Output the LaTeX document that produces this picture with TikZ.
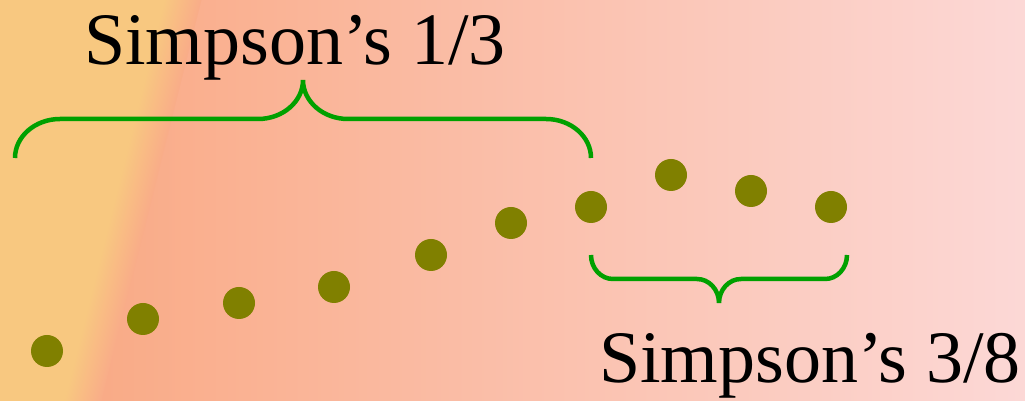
\documentclass[tikz,border=0pt]{standalone}
\usepackage{fontspec}
\setmainfont{Liberation Serif}
\definecolor{bgyellow}{RGB}{248,200,128}
\definecolor{bgsalmon}{RGB}{249,166,126}
\definecolor{bgpink}{RGB}{252,216,214}
\definecolor{dotolive}{RGB}{128,128,0}
\definecolor{bracegreen}{RGB}{0,160,0}
\begin{document}
\begin{tikzpicture}[x=1pt,y=1pt,
  pt/.style={circle,fill=dotolive,minimum size=32pt,inner sep=0pt},
  bracket/.style={bracegreen,line width=4.5pt},
  lbl/.style={font=\fontsize{74}{80}\selectfont,inner sep=0pt,anchor=base}]
  \useasboundingbox (0,0) rectangle (1025,401);
  % background
  \begin{scope}
    \clip (0,0) rectangle (1025,401);
    \shade[left color=bgsalmon,right color=bgpink] (0,0) rectangle (1025,401);
    \begin{scope}[transform canvas={shift={(133pt,201pt)},rotate=-14}]
      \fill[bgyellow] (-400,-300) rectangle (-18,300);
      \shade[left color=bgyellow,right color=bgsalmon!88!bgpink] (-18.5,-300) rectangle (18,300);
    \end{scope}
  \end{scope}

  % sample points
  \foreach \px/\py [count=\i] in {47/50,143/82,239/98,334/114,431/146,511/178,591/194,671/226,751/210,831/194}
    \node[pt] (d\i) at (\px,\py) {};

  % braces
  \coordinate (t1) at (15,243);
  \coordinate (b1) at (591,146);
  \draw[bracket] (t1) arc[start angle=180,end angle=90,x radius=45,y radius=39]
    -- ++(198,0) arc[start angle=270,end angle=360,x radius=45,y radius=39]
    arc[start angle=180,end angle=270,x radius=45,y radius=39]
    -- ++(198,0) arc[start angle=90,end angle=0,x radius=45,y radius=39];
  \draw[bracket] (b1) arc[start angle=180,end angle=270,x radius=22,y radius=24]
    -- ++(84,0) arc[start angle=90,end angle=0,x radius=22,y radius=24]
    arc[start angle=180,end angle=90,x radius=22,y radius=24]
    -- ++(84,0) arc[start angle=270,end angle=360,x radius=22,y radius=24];

  % labels
  \node[lbl] (simp13) at (295,336) {Simpson's 1/3};
  \node[lbl] (simp38) at (810,18) {Simpson's 3/8};
\end{tikzpicture}
\end{document}
